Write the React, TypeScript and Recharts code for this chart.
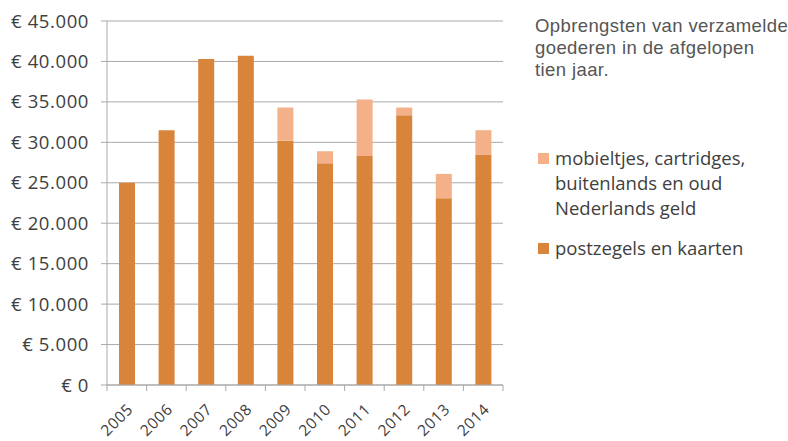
import React from "react";
import { BarChart, Bar, XAxis, YAxis, CartesianGrid, Legend } from "recharts";

// Opbrengsten per jaar (euro)
const years = ["2005", "2006", "2007", "2008", "2009", "2010", "2011", "2012", "2013", "2014"];
const postzegels = [25000, 31500, 40300, 40700, 30200, 27400, 28300, 33350, 23100, 28500];
const overig = [0, 0, 0, 0, 4100, 1500, 7000, 950, 3000, 3000];
const yTicks = [0, 5000, 10000, 15000, 20000, 25000, 30000, 35000, 40000, 45000];

const data = years.map((year, i) => ({ year, postzegels: postzegels[i], overig: overig[i] }));

const DARK = "#d9843b";
const LIGHT = "#f3b089";
const GRID = "#a9a9a9";
const AXIS_TEXT = "#404040";
const FONT = "'Open Sans', sans-serif";

const W = 788;
const H = 441;
const MARGIN = { top: 21, right: 285, bottom: 0, left: 0 };
const Y_WIDTH = 107;
const X_HEIGHT = 56;
const HALF_BAND = (W - MARGIN.right - MARGIN.left - Y_WIDTH) / years.length / 2;

const euro = (v: number) => (v === 0 ? "€ 0" : "€ " + String(v).replace(/\B(?=(\d{3})+(?!\d))/g, "."));

function YearTick(props: any) {
  const { x, y, payload, index } = props;
  const half = payload?.offset || HALF_BAND;
  const last = index === years.length - 1;
  const tx = x + 3;
  const ty = y + 21;
  return (
    <g>
      <line x1={x - half} x2={x - half} y1={y} y2={y + 6} stroke={GRID} />
      {last && <line x1={x + half} x2={x + half} y1={y} y2={y + 6} stroke={GRID} />}
      <text
        x={tx}
        y={ty}
        transform={`rotate(-45, ${tx}, ${ty})`}
        textAnchor="end"
        dominantBaseline="central"
        fill={AXIS_TEXT}
        fontSize={15.5}
        letterSpacing={0.6}
        fontFamily={FONT}
      >
        {payload.value}
      </text>
    </g>
  );
}

function LegendBox({ payload }: any) {
  const items = payload || [];
  return (
    <div style={{ fontFamily: FONT, fontSize: 18.5, lineHeight: "25px", color: AXIS_TEXT }}>
      {items.map((item: any, i: number) => (
        <div key={item.value} style={{ display: "flex", marginTop: i === 0 ? 0 : 15 }}>
          <span
            style={{
              width: 11,
              height: 11,
              background: item.color,
              marginTop: 8,
              marginRight: 6,
              flex: "0 0 11px",
            }}
          />
          <span style={{ width: 215 }}>{item.value}</span>
        </div>
      ))}
    </div>
  );
}

export default function App() {
  return (
    <div style={{ position: "absolute", left: 0, top: 0, width: W, height: H, background: "#fff" }}>
      <div
        style={{
          position: "absolute",
          left: 535,
          top: 15,
          fontFamily: "'Liberation Sans', Arial, sans-serif",
          fontSize: 18.5,
          letterSpacing: "0.4px",
          lineHeight: "22px",
          color: "#555",
          whiteSpace: "nowrap",
        }}
      >
        Opbrengsten van verzamelde
        <br />
        goederen in de afgelopen
        <br />
        tien jaar.
      </div>
      <BarChart width={W} height={H} data={data} margin={MARGIN}>
        <CartesianGrid vertical={false} stroke={GRID} />
        <XAxis
          dataKey="year"
          height={X_HEIGHT}
          axisLine={{ stroke: GRID }}
          tickLine={false}
          tickSize={0}
          tickMargin={0}
          interval={0}
          tick={<YearTick />}
        />
        <YAxis
          width={Y_WIDTH}
          domain={[0, 45000]}
          ticks={yTicks}
          tickFormatter={euro}
          axisLine={{ stroke: GRID }}
          tickLine={{ stroke: GRID }}
          tickSize={6}
          tickMargin={12}
          tick={{ fill: AXIS_TEXT, fontSize: 18.5, fontFamily: FONT, letterSpacing: 0.6 }}
        />
        <Legend
          layout="vertical"
          align="center"
          verticalAlign="middle"
          wrapperStyle={{ left: 538, top: 145, width: 245 }}
          content={<LegendBox />}
        />
        <Bar
          dataKey="postzegels"
          name="postzegels en kaarten"
          stackId="a"
          fill={DARK}
          barSize={16}
          isAnimationActive={false}
        />
        <Bar
          dataKey="overig"
          name="mobieltjes, cartridges, buitenlands en oud Nederlands geld"
          stackId="a"
          fill={LIGHT}
          barSize={16}
          isAnimationActive={false}
        />
      </BarChart>
    </div>
  );
}
